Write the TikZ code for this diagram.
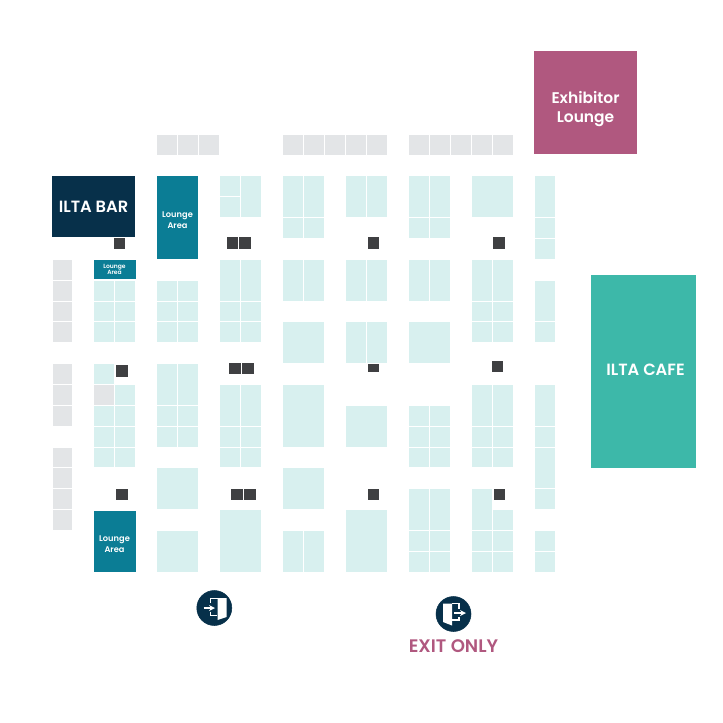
\documentclass[tikz,border=0pt]{standalone}
\usepackage{fontspec}
\setmainfont{Poppins}[BoldFont={Poppins SemiBold}]
\usetikzlibrary{positioning}

\definecolor{booth}{HTML}{D8F0EF}
\definecolor{reserved}{HTML}{E3E5E7}
\definecolor{pillar}{HTML}{3F4042}
\definecolor{navy}{HTML}{07304A}
\definecolor{lounge}{HTML}{0B7D95}
\definecolor{cafe}{HTML}{3DB8A9}
\definecolor{rose}{HTML}{B0587F}

% (a,b) is a grid position, c and d count the cells
\newcommand{\gx}[1]{52+20.96*#1}
\newcommand{\gy}[1]{176+20.85*#1}

\tikzset{
	hall/.style={text=white, font=\bfseries, align=center, inner sep=0pt, text depth=0pt},
}

\begin{document}
\begin{tikzpicture}[x=0.75pt,y=-0.75pt,>=stealth]
	\useasboundingbox (0,0) rectangle (723,723);
	% top row and left column
	\foreach \a/\b/\c/\d in {5/-2/1/1,6/-2/1/1,7/-2/1/1,11/-2/1/1,12/-2/1/1,13/-2/1/1,14/-2/1/1,15/-2/1/1,17/-2/1/1,18/-2/1/1,19/-2/1/1,20/-2/1/1,21/-2/1/1,0/4/1/1,0/5/1/1,0/6/1/1,0/7/1/1,0/9/1/1,0/10/1/1,0/11/1/1,0/13/1/1,0/14/1/1,0/15/1/1,0/16/1/1,2/10/1/1}
		\fill[reserved] ({\gx{\a}+0.5},{\gy{\b}+0.5}) rectangle ({\gx{(\a+\c)}-0.5},{\gy{(\b+\d)}-0.5});
	% booths
	\foreach \a/\b/\c/\d in {8/0/1/1,8/1/1/1,9/0/1/2,
		11/0/1/2,12/0/1/2,11/2/1/1,12/2/1/1,14/0/1/2,15/0/1/2,17/0/1/2,18/0/1/2,17/2/1/1,18/2/1/1,20/0/2/2,
		23/0/1/2,23/2/1/1,23/3/1/1,
		2/5/1/1,3/5/1/1,2/6/1/1,3/6/1/1,2/7/1/1,3/7/1/1,5/5/1/1,6/5/1/1,5/6/1/1,6/6/1/1,5/7/1/1,6/7/1/1,
		8/4/1/2,9/4/1/2,8/6/1/1,9/6/1/1,8/7/1/1,9/7/1/1,
		11/4/1/2,12/4/1/2,14/4/1/2,15/4/1/2,17/4/1/2,18/4/1/2,
		20/4/1/2,21/4/1/2,20/6/1/1,21/6/1/1,20/7/1/1,21/7/1/1,
		23/5/1/2,23/7/1/1,11/7/2/2,14/7/1/2,15/7/1/2,17/7/2/2,
		2/9/1/1,3/10/1/1,2/11/1/1,3/11/1/1,2/12/1/1,3/12/1/1,2/13/1/1,3/13/1/1,
		5/9/1/2,6/9/1/2,5/11/1/1,6/11/1/1,5/12/1/1,6/12/1/1,
		8/10/1/2,9/10/1/2,8/12/1/1,9/12/1/1,8/13/1/1,9/13/1/1,
		11/10/2/3,14/11/2/2,17/11/1/1,18/11/1/1,17/12/1/1,18/12/1/1,17/13/1/1,18/13/1/1,
		20/10/1/2,21/10/1/2,20/12/1/1,21/12/1/1,20/13/1/1,21/13/1/1,
		23/10/1/2,23/12/1/1,23/13/1/2,23/15/1/1,
		5/14/2/2,11/14/2/2,5/17/2/2,8/16/2/3,11/17/1/2,12/17/1/2,14/16/2/3,
		17/15/1/2,18/15/1/2,17/17/1/1,18/17/1/1,17/18/1/1,18/18/1/1,
		20/15/1/2,21/16/1/1,20/17/1/1,21/17/1/1,20/18/1/1,21/18/1/1,23/17/1/1,23/18/1/1}
		\fill[booth] ({\gx{\a}+0.5},{\gy{\b}+0.5}) rectangle ({\gx{(\a+\c)}-0.5},{\gy{(\b+\d)}-0.5});
	% pillars
	\foreach \a/\b/\c/\d in {114/238/11/11,227/237/11/12,239/237/12/12,368/237/11/12,493/237/12/12,
		116/365/12/12,229/363/12/11,242/363/12/11,368/364/11/8,492/361/11/11,
		116/489/12/11,231/489/12/11,244/489/12/11,368/489/11/11,494/489/11/11}
		\fill[pillar] (\a,\b) rectangle ++(\c,\d);
	% halls
	\fill[navy] (52,176) rectangle (135,237);
	\fill[lounge] (157,176) rectangle (198,259);
	\fill[lounge] (94,260) rectangle (135.5,279);
	\fill[lounge] (94,511) rectangle (135.5,572);
	\fill[rose] (534,51) rectangle (637,154);
	\fill[cafe] (591,275) rectangle (696,468);
	\node[hall, font=\bfseries\fontsize{12.2}{13}\selectfont] (bar) at (93.5,207) {ILTA BAR};
	\node[hall, font=\bfseries\fontsize{6.2}{8}\selectfont] (loungeA) at (177.5,220) {Lounge\\Area};
	\node[hall, font=\bfseries\fontsize{4.5}{5}\selectfont] (loungeB) at (114.5,269.5) {Lounge\\Area};
	\node[hall, font=\bfseries\fontsize{6.2}{8}\selectfont] (loungeC) at (114.5,544) {Lounge\\Area};
	\node[hall, font=\bfseries\fontsize{11.6}{14.5}\selectfont] (exhibitor) at (585.5,107) {Exhibitor\\Lounge};
	\node[hall, font=\bfseries\fontsize{12.2}{13}\selectfont] (cafe) at (645.5,370) {ILTA CAFE};
	% doors
	\filldraw[navy] (214.3,608) circle (17.5);
	\fill[white] (217.5,598) -- (226.5,598) -- (226.5,617) -- (217.5,620) -- cycle;
	\draw[white, line width=1pt] (210.5,603) -- (210.5,598.5) -- (226,598.5);
	\draw[white, line width=1pt] (210.5,611.5) -- (210.5,615.5) -- (217,615.5);
	\draw[white, line width=1pt, ->] (203.5,608) -- (215,608);
	\filldraw[navy] (453.5,614) circle (17.5);
	\fill[white] (443,603.5) -- (452,603.5) -- (452,625.5) -- (443,622) -- cycle;
	\draw[white, line width=1pt] (452,603.5) -- (459,603.5) -- (459,608.5);
	\draw[white, line width=1pt] (452,620) -- (459,620) -- (459,616.5);
	\draw[white, line width=1pt, ->] (454,613) -- (466,613);
	\node[text=rose, font=\bfseries\fontsize{13.6}{15}\selectfont] (exit) at (453.5,646) {EXIT ONLY};
\end{tikzpicture}
\end{document}
